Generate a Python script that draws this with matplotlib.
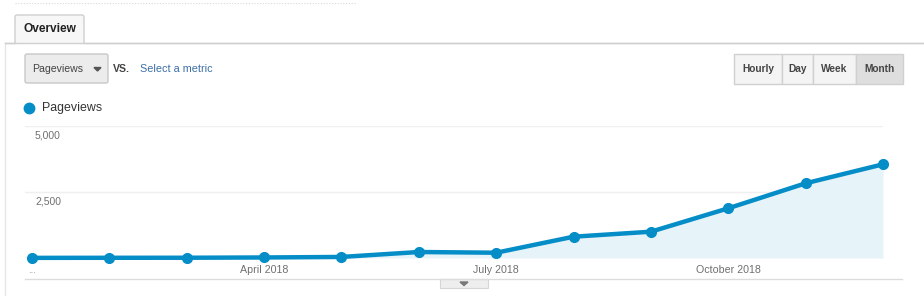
import matplotlib.pyplot as plt
from matplotlib.patches import FancyBboxPatch, Rectangle, Polygon
from matplotlib.transforms import blended_transform_factory

plt.rcParams['font.family'] = ['Liberation Sans', 'DejaVu Sans']

W, H = 924, 296

months = ['January 2018', 'February 2018', 'March 2018', 'April 2018', 'May 2018',
          'June 2018', 'July 2018', 'August 2018', 'September 2018',
          'October 2018', 'November 2018', 'December 2018']
pageviews = [5, 8, 10, 20, 40, 227, 200, 807, 996, 1883, 2830, 3549]
tick_idx = [3, 6, 9]
y_ticks = [2500, 5000]
y_tick_labels = ['2,500', '5,000']
buttons = ['Hourly', 'Day', 'Week', 'Month']
button_edges = [734, 782, 813, 856, 903]

BLUE = '#058dc7'

fig = plt.figure(figsize=(W / 100, H / 100), dpi=100)

# background layer in pixel coordinates for the page chrome
bg = fig.add_axes([0, 0, 1, 1])
bg.set_xlim(0, W)
bg.set_ylim(H, 0)
bg.axis('off')

# faint dotted box edge at the very top
bg.plot([15, 355], [3, 3], color='#d8d8d8', lw=0.8, ls=(0, (1, 1.5)))
# panel borders
bg.plot([5, W], [43, 43], color='#cfcfcf', lw=1)
bg.plot([5, 5], [43, H], color='#e6e6e6', lw=1)

# Overview tab
bg.add_patch(FancyBboxPatch((15, 15), 69, 30, boxstyle='round,pad=0,rounding_size=2',
                            facecolor='#f7f7f7', edgecolor='#cfcfcf', lw=1))
bg.add_patch(Rectangle((14, 43.6), 71, 3, facecolor='white', edgecolor='none'))
bg.plot([5, 15], [43, 43], color='#cfcfcf', lw=1)
bg.plot([84, W], [43, 43], color='#cfcfcf', lw=1)
bg.text(49.5, 29, 'Overview', ha='center', va='center', fontsize=8.6, fontweight='bold', color='#222')

# metric dropdown
bg.add_patch(FancyBboxPatch((25, 54), 83, 29, boxstyle='round,pad=0,rounding_size=2',
                            facecolor='#ececec', edgecolor='#c8c8c8', lw=1))
bg.text(32, 69, 'Pageviews', ha='left', va='center', fontsize=7.6, color='#444')
bg.add_patch(Polygon([[94, 67.5], [101, 67.5], [97.5, 71]], closed=True, color='#555'))
bg.text(113, 68.5, 'VS.', ha='left', va='center', fontsize=7.6, color='#444', fontweight='bold')
bg.text(140, 69, 'Select a metric', ha='left', va='center', fontsize=7.8, color='#3c6fa6')

# time granularity buttons
for i, name in enumerate(buttons):
    x0, x1 = button_edges[i], button_edges[i + 1]
    fc = '#dedede' if name == 'Month' else '#f4f4f4'
    bg.add_patch(Rectangle((x0, 54), x1 - x0, 29.5, facecolor=fc, edgecolor='#d0d0d0', lw=1))
    bg.text((x0 + x1) / 2, 69, name, ha='center', va='center', fontsize=7.3,
            fontweight='bold', color='#444')

# legend
bg.plot([29], [108], 'o', color=BLUE, markersize=7.5)
bg.text(42, 108.5, 'Pageviews', ha='left', va='center', fontsize=8.9, color='#333')

# bottom separator with collapse handle
bg.plot([25, 902], [279, 279], color='#dcdcdc', lw=1)
bg.add_patch(Rectangle((440, 279), 48, 9, facecolor='#eeeeee', edgecolor='#d6d6d6', lw=0.8))
bg.add_patch(Polygon([[460, 282], [468, 282], [464, 285.5]], closed=True, color='#777'))

# the chart itself
left, right, top, bottom = 25, 883, 126, 258
ax = fig.add_axes([left / W, 1 - bottom / H, (right - left) / W, (bottom - top) / H])
ax.patch.set_alpha(0)
x = list(range(len(pageviews)))
step = (right - 32) / (len(x) - 1)
ax.set_xlim(-(32 - left) / step, len(x) - 1)
ax.set_ylim(0, 5000)

for v in y_ticks:
    ax.axhline(v, color='#efefef', lw=1, zorder=0)
ax.axhline(0, color='#a8a8a8', lw=1, zorder=1)

ax.fill_between(x, pageviews, 0, color='#e6f3f9', zorder=1, lw=0)
ax.plot(x, pageviews, color=BLUE, lw=3.2, marker='o', markersize=7, zorder=3, clip_on=False)

for v, lab in zip(y_ticks, y_tick_labels):
    ax.annotate(lab, xy=(10 / (right - left), v), xycoords=('axes fraction', 'data'),
                xytext=(0, -3), textcoords='offset points', ha='left', va='top',
                fontsize=7.5, color='#707070')

ax.set_xticks(tick_idx)
ax.set_xticklabels([months[i] for i in tick_idx], fontsize=7.7, color='#707070')
ax.tick_params(axis='x', length=0, pad=5)
ax.set_yticks([])
trans = blended_transform_factory(ax.transData, ax.transAxes)
ax.text(0, -0.115, '...', transform=trans, ha='center', va='baseline', fontsize=7, color='#999')
for s in ax.spines.values():
    s.set_visible(False)

fig.savefig('out.png', dpi=100)
